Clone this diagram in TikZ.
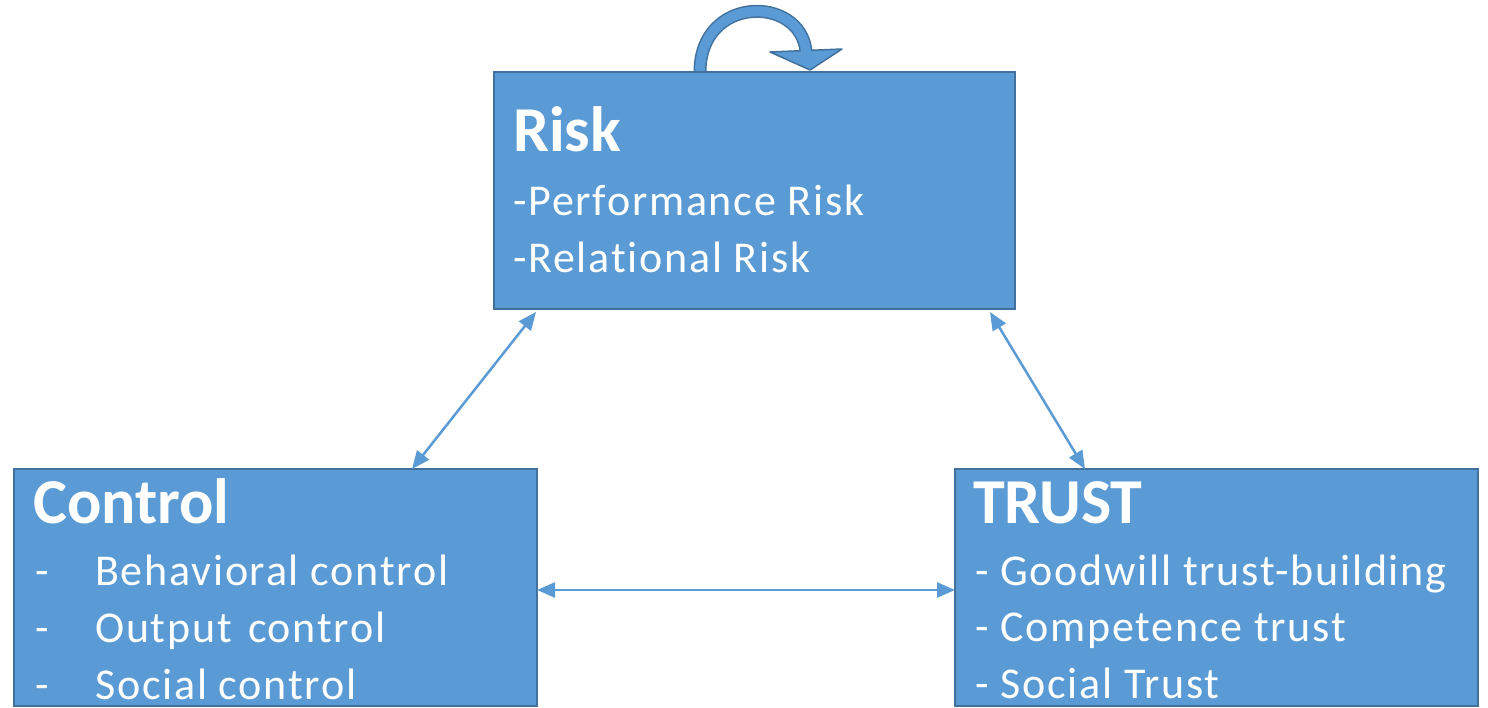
\documentclass[tikz,border=0pt]{standalone}
\usepackage{fontspec}
\setmainfont{Carlito}[Ligatures=NoCommon]
\newfontfamily\bodyfont[LetterSpace=4,Ligatures=NoCommon]{Carlito}
\usetikzlibrary{arrows.meta,calc}
\definecolor{boxfill}{HTML}{5B9BD5}
\definecolor{boxline}{HTML}{41719C}
\begin{document}
\begin{tikzpicture}[x=1pt,y=-1pt,
  panel/.style={draw=boxline, line width=2pt, fill=boxfill, inner sep=0pt, outer sep=0pt, anchor=north west},
  title/.style={anchor=base west, inner sep=0pt, text=white, font=\fontsize{64}{64}\selectfont\bfseries},
  item/.style={anchor=base west, inner sep=0pt, text=white, font=\fontsize{44}{44}\selectfont\bodyfont},
  link/.style={draw=boxfill, line width=2.5pt, {Triangle[length=18pt,width=15pt]}-{Triangle[length=18pt,width=15pt]}}]
\useasboundingbox (0,0) rectangle (1488,707);
\clip (0,0) rectangle (1488,707);

% curved self arrow on top of Risk
\draw[boxline, line width=13pt] (700,80) -- (700,72) .. controls (700,-5) and (800,-5) .. (806,51);
\filldraw[fill=boxfill, draw=boxline, line width=1.5pt, line join=round] (770,52) -- (842,49) -- (810,70) -- cycle;
\draw[boxfill, line width=10pt] (700,80) -- (700,72) .. controls (700,-5) and (800,-5) .. (806,51) -- (806.8,55);

% panels
\node[panel, minimum width=521pt, minimum height=237pt] (risk) at (494,72) {};
\node[panel, minimum width=523pt, minimum height=237pt] (ctrl) at (14,469) {};
\node[panel, minimum width=523pt, minimum height=237pt] (trust) at (955,469) {};

% Risk texts
\node[title] (risktitle) at (513,151) {Risk};
\node[item] (risk1) at (513,215) {-Performance Risk};
\node[item] (risk2) at (513,272) {-Relational Risk};

% Control texts
\node[title] (ctrltitle) at (33,523) {Control};
\node[item] (cdash1) at (35,585) {-};
\node[item] (ctrl1) at (95,585) {Behavioral control};
\node[item] (cdash2) at (35,642) {-};
\node[item] (ctrl2) at (95,642) {Output\hspace{0.1em} control};
\node[item] (cdash3) at (35,699) {-};
\node[item] (ctrl3) at (95,699) {Social control};

% Trust texts
\node[title] (trusttitle) at (973,523) {TRUST};
\node[item] (trust1) at (975,585) {- Goodwill trust-building};
\node[item] (trust2) at (975,641) {- Competence trust};
\node[item] (trust3) at (975,698) {- Social Trust};

% connectors
\draw[link] ([xshift=42pt,yshift=-3pt]risk.south west) -- ([xshift=398pt]ctrl.north west);
\draw[link] ([xshift=-25pt,yshift=-3pt]risk.south east) -- ([xshift=130pt]trust.north west);
\draw[link] ($(ctrl.east)+(0,2.5)$) -- ($(trust.west)+(0,2.5)$);
\end{tikzpicture}
\end{document}
